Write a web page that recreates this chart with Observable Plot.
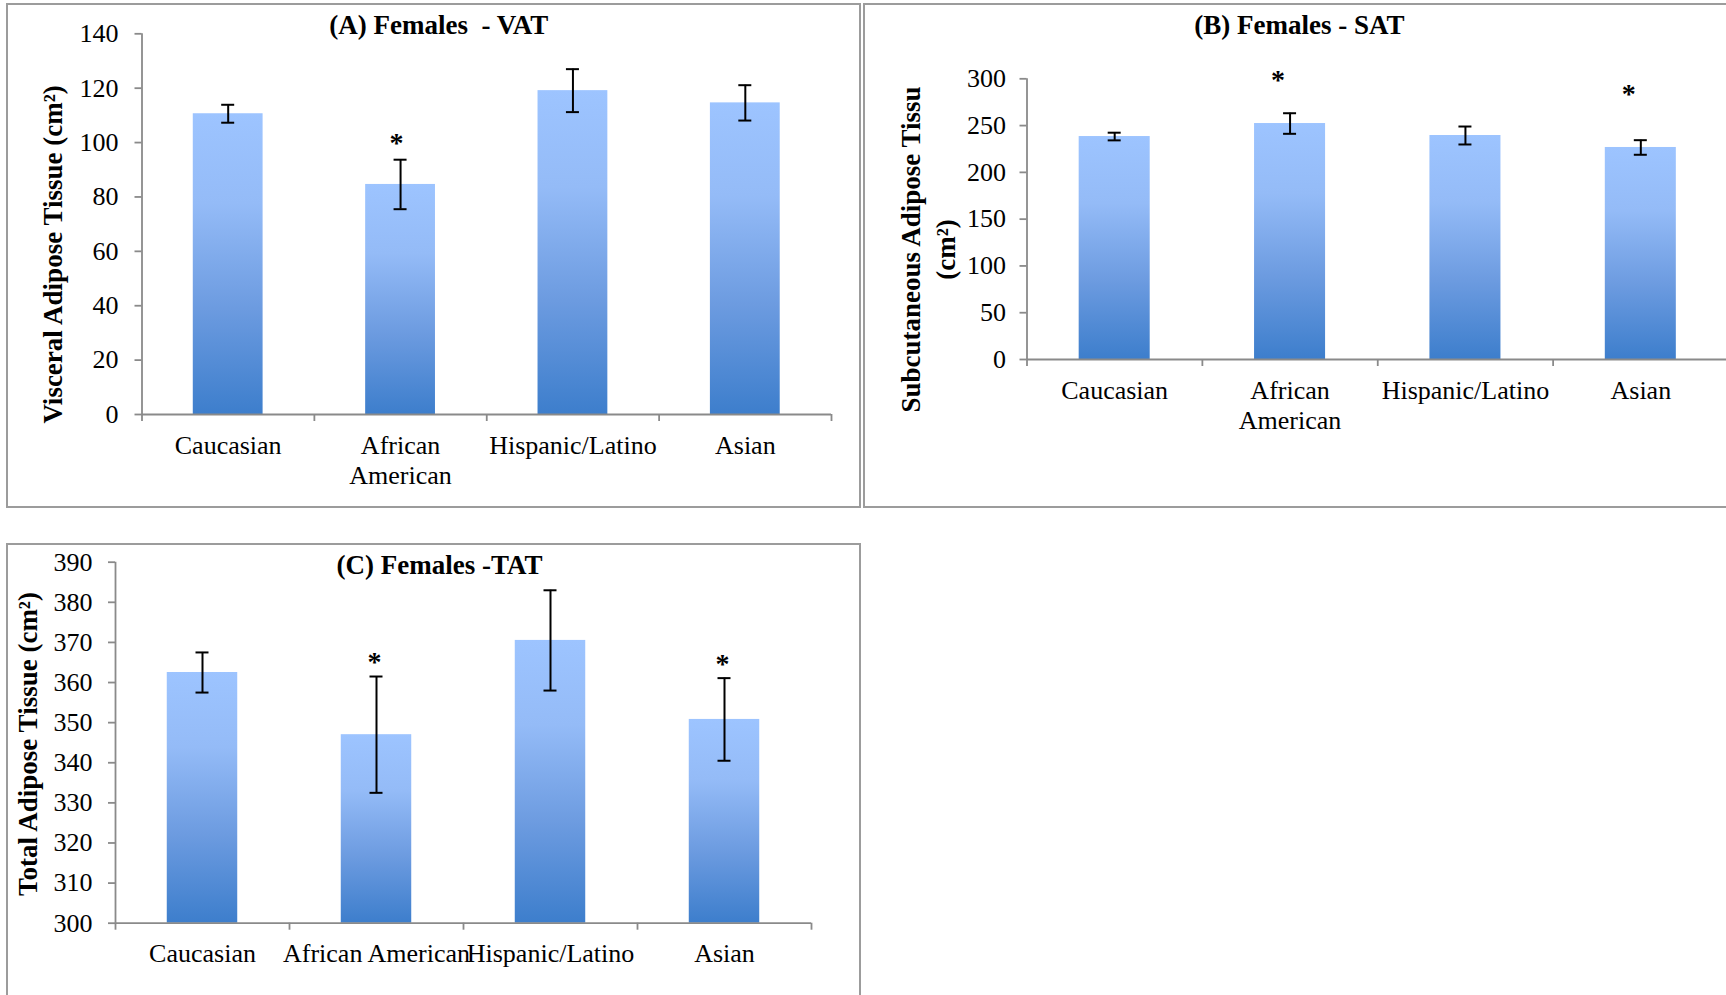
<!DOCTYPE html>
<html>
<head>
<meta charset="utf-8">
<script src="https://cdn.jsdelivr.net/npm/d3@7"></script>
<script src="https://cdn.jsdelivr.net/npm/@observablehq/plot@0.6"></script>
<style>
  html, body { margin: 0; padding: 0; background: #fff; overflow: hidden; }
  body { width: 1726px; height: 995px; position: relative; }
  .panel { position: absolute; border: 2px solid #9c9c9c; box-sizing: border-box; }
  .chart { position: absolute; }
  .chart svg { display: block; max-width: none; }
  svg text { white-space: pre; }
</style>
</head>
<body>
<div class="panel" style="left:6px;top:3px;width:855px;height:505px"></div>
<div class="panel" style="left:863px;top:3px;width:900px;height:505px"></div>
<div class="panel" style="left:6px;top:543px;width:855px;height:500px"></div>
<div class="chart" id="vat" style="left:6px;top:4px"></div>
<div class="chart" id="sat" style="left:864px;top:4px"></div>
<div class="chart" id="tat" style="left:6px;top:544px"></div>
<script>
// Ethnic groups (x categories)
const groups = ["Caucasian", "African American", "Hispanic/Latino", "Asian"];
const labelsWrapped = ["Caucasian", "African\nAmerican", "Hispanic/Latino", "Asian"];
const labelsSingle = ["Caucasian", "African American", "Hispanic/Latino", "Asian"];

// (A) Visceral adipose tissue, cm²: mean, standard error, significance marker level
const vatMean = [110.6, 84.6, 119.1, 114.6];
const vatErr = [3.3, 9.1, 7.9, 6.5];
const vatStar = [null, 101.5, null, null];
const vatTicks = [0, 20, 40, 60, 80, 100, 120, 140];

// (B) Subcutaneous adipose tissue, cm²
const satMean = [238.3, 252.2, 239.4, 226.6];
const satErr = [4.1, 11.0, 9.6, 7.8];
const satStar = [null, 303.5, null, 289.1];
const satTicks = [0, 50, 100, 150, 200, 250, 300];

// (C) Total adipose tissue, cm²
const tatMean = [362.5, 347.0, 370.5, 350.8];
const tatErr = [5.0, 14.5, 12.5, 10.3];
const tatStar = [null, 366.4, null, 365.8];
const tatTicks = [300, 310, 320, 330, 340, 350, 360, 370, 380, 390];

const AXIS = "#8a8a8a";
const PAD = 0.595;     // band padding between bars
const CAP = 13;        // error bar cap width, px
const FONT = "'Liberation Serif', 'Times New Roman', serif";
const BOLD_SIZE = 27;

function drawPanel(cfg) {
  const {id, width, height, m, yTicks, means, errs, stars, labels} = cfg;
  const yDomain = [yTicks[0], yTicks[yTicks.length - 1]];
  const base = yDomain[0];
  const rows = groups.map((g, i) => ({
    group: g, mean: means[i], lo: means[i] - errs[i], hi: means[i] + errs[i], star: stars[i]
  }));
  const step = (width - m.left - m.right) / groups.length;
  const bw = step * (1 - PAD);
  const capInset = (bw - CAP) / 2;
  const gradId = id + "-grad";

  const chart = Plot.plot({
    width, height,
    marginLeft: m.left, marginRight: m.right, marginTop: m.top, marginBottom: m.bottom,
    style: {fontFamily: FONT, fontSize: "26px", color: "#000", background: "transparent", overflow: "visible"},
    x: {domain: groups, paddingInner: PAD, paddingOuter: PAD / 2, round: false},
    y: {domain: yDomain},
    marks: [
      // gradient bars
      Plot.barY(rows, {x: "group", y1: base, y2: "mean", fill: `url(#${gradId})`}),
      // axis lines
      Plot.ruleY([base], {stroke: AXIS, strokeWidth: 1.8}),
      Plot.ruleX([groups[0]], {x: d => d, y1: yDomain[0], y2: yDomain[1], dx: -step / 2, stroke: AXIS, strokeWidth: 1.8}),
      // category boundary ticks below the x axis
      Plot.ruleX(groups, {x: d => d, y1: base, y2: base, dx: -step / 2, insetBottom: -7, stroke: AXIS, strokeWidth: 1.8}),
      Plot.ruleX([groups[groups.length - 1]], {x: d => d, y1: base, y2: base, dx: step / 2, insetBottom: -7, stroke: AXIS, strokeWidth: 1.8}),
      Plot.axisY({ticks: yTicks, tickSize: 7, tickPadding: cfg.tickPadding, stroke: AXIS, strokeWidth: 1.8,
                  fill: "#000", fontSize: 26, fontFamily: FONT, tickFormat: d => String(d), label: null}),
      Plot.axisX({tickSize: 0, tickPadding: cfg.xLabelPadding, fontSize: 26, fontFamily: FONT, lineHeight: 1.17,
                  fill: "#000", label: null, tickFormat: d => labels[groups.indexOf(d)]}),
      // error bars
      Plot.ruleX(rows, {x: "group", y1: "lo", y2: "hi", stroke: "#000", strokeWidth: 2}),
      Plot.tickY(rows, {x: "group", y: "lo", insetLeft: capInset, insetRight: capInset, stroke: "#000", strokeWidth: 2}),
      Plot.tickY(rows, {x: "group", y: "hi", insetLeft: capInset, insetRight: capInset, stroke: "#000", strokeWidth: 2}),
      // significance markers
      Plot.text(rows.filter(d => d.star != null), {x: "group", y: "star", text: () => "*",
                fontSize: 28, fontWeight: "bold", fontFamily: FONT, dx: cfg.starDx, dy: 5, fill: "#000"}),
      // panel title
      Plot.text([cfg.title], {text: d => d, frameAnchor: "top", dx: cfg.titleDx, dy: cfg.titleDy,
                lineAnchor: "middle", fontSize: BOLD_SIZE, fontWeight: "bold", fontFamily: FONT, fill: "#000"}),
      // y axis title
      Plot.text([cfg.yLabel], {text: d => d, frameAnchor: "left", rotate: -90, dx: cfg.yLabelDx, dy: cfg.yLabelDy,
                textAnchor: "middle", lineAnchor: "middle", lineHeight: cfg.yLabelLineHeight || 1,
                fontSize: BOLD_SIZE, fontWeight: "bold", fontFamily: FONT, fill: "#000"})
    ]
  });

  // vertical light-to-dark gradient applied to each bar
  const defs = d3.select(chart).insert("defs", ":first-child");
  const grad = defs.append("linearGradient").attr("id", gradId)
    .attr("x1", 0).attr("y1", 0).attr("x2", 0).attr("y2", 1);
  [[0, "#9dc4ff"], [0.3, "#94bbf7"], [0.65, "#6c9be0"], [1, "#3d7ecc"]].forEach(([o, c]) =>
    grad.append("stop").attr("offset", o).attr("stop-color", c));

  document.getElementById(id).appendChild(chart);
}

drawPanel({
  id: "vat", width: 854, height: 503,
  m: {left: 135.5, right: 29, top: 29.3, bottom: 93},
  yTicks: vatTicks, means: vatMean, errs: vatErr, stars: vatStar, labels: labelsWrapped,
  tickPadding: 16.5, xLabelPadding: 17.4, starDx: -4,
  title: "(A) Females  - VAT", titleDx: -47.9, titleDy: -8.3,
  yLabel: "Visceral Adipose Tissue (cm²)", yLabelDx: -89, yLabelDy: 30.3
});

drawPanel({
  id: "sat", width: 880, height: 503,
  m: {left: 162.5, right: 16, top: 74.3, bottom: 148},
  yTicks: satTicks, means: satMean, errs: satErr, stars: satStar, labels: labelsWrapped,
  tickPadding: 14, xLabelPadding: 17.7, starDx: -12,
  title: "(B) Females - SAT", titleDx: -78.3, titleDy: -53.3,
  yLabel: "Subcutaneous Adipose Tissu\n(cm²)", yLabelDx: -100.8, yLabelDy: 30.3, yLabelLineHeight: 1.3
});

drawPanel({
  id: "tat", width: 854, height: 451,
  m: {left: 109, right: 49, top: 17.7, bottom: 72.3},
  yTicks: tatTicks, means: tatMean, errs: tatErr, stars: tatStar, labels: labelsSingle,
  tickPadding: 16, xLabelPadding: 17.4, starDx: -2,
  title: "(C) Females -TAT", titleDx: -24, titleDy: 3.3,
  yLabel: "Total Adipose Tissue (cm²)", yLabelDx: -87.5, yLabelDy: 1.3
});
</script>
</body>
</html>
